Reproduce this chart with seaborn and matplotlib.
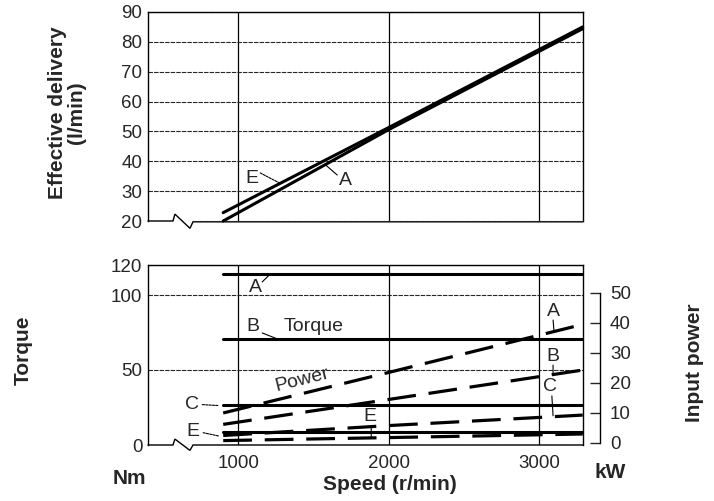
import matplotlib
matplotlib.use("Agg")
import matplotlib.pyplot as plt
import matplotlib.transforms as mtrans
import seaborn as sns
import pandas as pd

# ---------------- data ----------------
speed = [900, 2000, 3290]
delivery_E = [22.8, 51.3, 85.0]
delivery_A = [20.0, 50.6, 84.4]

torque_series = ["A", "B", "C", "E"]
torque_A = [114, 114, 114]
torque_B = [70.5, 70.5, 70.5]
torque_C = [26.7, 26.7, 26.7]
torque_E = [8.5, 8.5, 8.5]

power_A = [10.0, 23.5, 39.5]
power_B = [6.2, 14.5, 24.3]
power_C = [2.5, 5.8, 9.3]
power_E = [0.8, 1.8, 3.0]

delivery_ticks = [20, 30, 40, 50, 60, 70, 80, 90]
torque_ticks = [0, 50, 100, 120]
power_ticks = [0, 10, 20, 30, 40, 50]
speed_ticks = [1000, 2000, 3000]
speed_labels = ["1000", "2000", "3000"]

# ---------------- style ----------------
sns.set_style("white")
plt.rcParams["font.family"] = ["Liberation Sans", "DejaVu Sans"]
plt.rcParams["axes.edgecolor"] = "black"
plt.rcParams["axes.linewidth"] = 1.0

W, H = 714, 501
fig = plt.figure(figsize=(W / 100, H / 100), dpi=100)


def fx(px):
    return px / W


def fy(py):
    return 1 - py / H


ax_t = fig.add_axes([fx(148), fy(221), fx(583) - fx(148), fy(12) - fy(221)])
ax_b = fig.add_axes([fx(148), fy(445), fx(583) - fx(148), fy(265) - fy(445)])

XMIN, XMAX = 400, 3292
TICK_FS = 13.5
ANN_FS = 14
LAB_FS = 15


def leader(ax, p0, p1, dashed=False):
    ax.annotate("", xy=p1, xytext=p0,
                arrowprops=dict(arrowstyle="-", lw=0.8, color="black",
                                linestyle=(0, (2, 1)) if dashed else "-",
                                shrinkA=0, shrinkB=0))


# ---------------- top chart ----------------
df_top = pd.DataFrame({
    "speed": speed * 2,
    "delivery": delivery_E + delivery_A,
    "pump": ["E"] * 3 + ["A"] * 3,
})
for name in ["E", "A"]:
    sub = df_top[df_top["pump"] == name]
    sns.lineplot(data=sub, x="speed", y="delivery", ax=ax_t, color="black",
                 linewidth=2.2, clip_on=False, legend=False)

ax_t.set_xlim(XMIN, XMAX)
ax_t.set_ylim(20, 90)
ax_t.set_yticks(delivery_ticks)
ax_t.set_yticklabels([str(v) for v in delivery_ticks])
ax_t.set_xticks(speed_ticks)
ax_t.set_xticklabels([])
ax_t.tick_params(axis="both", length=0, pad=4, labelsize=TICK_FS)
ax_t.set_xlabel("")
ax_t.set_ylabel("")
ax_t.grid(True, axis="y", color="0.15", linewidth=0.8, linestyle=(0, (4, 1)))
ax_t.grid(True, axis="x", color="black", linewidth=0.9)
ax_t.set_axisbelow(True)

# annotations top
ax_t.text(1093, 34.4, "E", fontsize=ANN_FS, ha="center", va="center")
leader(ax_t, (1146, 36.1), (1279, 32.6), dashed=True)
ax_t.text(1711, 33.7, "A", fontsize=ANN_FS, ha="center", va="center")
leader(ax_t, (1658, 35.4), (1578, 38.9))

# ---------------- bottom chart ----------------
df_torque = pd.DataFrame({
    "speed": speed * 4,
    "torque": torque_A + torque_B + torque_C + torque_E,
    "pump": sum([[p] * 3 for p in torque_series], []),
})
for name in torque_series:
    sub = df_torque[df_torque["pump"] == name]
    sns.lineplot(data=sub, x="speed", y="torque", ax=ax_b, color="black",
                 linewidth=2.2, legend=False)

ax_b.set_xlim(XMIN, XMAX)
ax_b.set_ylim(0, 120)
ax_b.set_yticks(torque_ticks)
ax_b.set_yticklabels([str(v) for v in torque_ticks])
ax_b.set_xticks(speed_ticks)
ax_b.set_xticklabels(speed_labels)
ax_b.tick_params(axis="y", length=0, pad=4, labelsize=TICK_FS)
ax_b.tick_params(axis="x", length=0, pad=7, labelsize=TICK_FS)
ax_b.set_xlabel("")
ax_b.set_ylabel("")
ax_b.grid(True, axis="y", color="0.15", linewidth=0.8, linestyle=(0, (4, 1)))
ax_b.grid(True, axis="x", color="black", linewidth=0.9)
ax_b.set_axisbelow(True)

ax_p = ax_b.twinx()
df_power = pd.DataFrame({
    "speed": speed * 4,
    "power": power_A + power_B + power_C + power_E,
    "pump": sum([[p] * 3 for p in torque_series], []),
})
for name in torque_series:
    sub = df_power[df_power["pump"] == name]
    sns.lineplot(data=sub, x="speed", y="power", ax=ax_p, color="black",
                 linewidth=2.3, linestyle=(0, (9, 4)), legend=False)
ax_p.set_xlim(XMIN, XMAX)
ax_p.set_ylim(-0.67, 59.3)
ax_p.set_ylabel("")
ax_p.set_yticks(power_ticks)
ax_p.set_yticklabels([str(v) for v in power_ticks])
for s in ["left", "top", "bottom"]:
    ax_p.spines[s].set_visible(False)
ax_p.spines["right"].set_position(("axes", 1.04))
ax_p.spines["right"].set_bounds(0, 50)
ax_p.tick_params(axis="y", direction="in", length=7, width=1.0, pad=7,
                 labelsize=TICK_FS)

# annotations bottom (torque coordinates)
ax_b.text(1113, 105.3, "A", fontsize=ANN_FS, ha="center", va="center")
leader(ax_b, (1159, 108.7), (1213, 114))
ax_b.text(1100, 78.7, "B", fontsize=ANN_FS, ha="center", va="center")
leader(ax_b, (1159, 74.7), (1266, 70.5))
ax_b.text(1498, 78.7, "Torque", fontsize=ANN_FS, ha="center", va="center")
ax_b.text(1425, 43.5, "Power", fontsize=ANN_FS, ha="center", va="center",
          rotation=14)
ax_b.text(3093, 89.3, "A", fontsize=ANN_FS, ha="center", va="center")
leader(ax_b, (3093, 83.3), (3100, 75.0))
ax_b.text(3093, 58.7, "B", fontsize=ANN_FS, ha="center", va="center")
leader(ax_b, (3093, 53.3), (3093, 48.0))
ax_b.text(3075, 38.7, "C", fontsize=ANN_FS, ha="center", va="center")
leader(ax_b, (3085, 32.7), (3093, 19.5))
ax_b.text(1877, 18.7, "E", fontsize=ANN_FS, ha="center", va="center")
leader(ax_b, (1884, 12.7), (1884, 4.5))
ax_b.text(694, 26.7, "C", fontsize=ANN_FS, ha="center", va="center")
leader(ax_b, (761, 26.9), (870, 26.3), dashed=True)
ax_b.text(700, 8.7, "E", fontsize=ANN_FS, ha="center", va="center")
leader(ax_b, (767, 8.2), (870, 6.0), dashed=True)

# ---------------- axis breaks on bottom spines ----------------
for ax, up, down, end in [(ax_t, 0.033, -0.035, -0.004),
                          (ax_b, 0.033, -0.03, 0.0)]:
    ax.spines["bottom"].set_visible(False)
    tr = mtrans.blended_transform_factory(ax.transData, ax.transAxes)
    ax.plot([XMIN, 566, 579, 679, 699, XMAX],
            [0, 0, up, down, end, end],
            transform=tr, color="black", lw=1.0, clip_on=False,
            solid_joinstyle="miter")

# ---------------- figure labels ----------------
fig.text(fx(67), fy(113), "Effective delivery\n(l/min)", rotation=90,
         ha="center", va="center", fontsize=LAB_FS, fontweight="bold",
         linespacing=1.05)
fig.text(fx(23), fy(350), "Torque", rotation=90, ha="center", va="center",
         fontsize=LAB_FS, fontweight="bold")
fig.text(fx(695), fy(363), "Input power", rotation=90, ha="center",
         va="center", fontsize=LAB_FS, fontweight="bold")
fig.text(fx(129), fy(478), "Nm", ha="center", va="center",
         fontsize=LAB_FS, fontweight="bold")
fig.text(fx(610), fy(472), "kW", ha="center", va="center",
         fontsize=LAB_FS, fontweight="bold")
fig.text(fx(390), fy(484), "Speed (r/min)", ha="center", va="center",
         fontsize=LAB_FS, fontweight="bold")

fig.savefig("out.png", dpi=100)
